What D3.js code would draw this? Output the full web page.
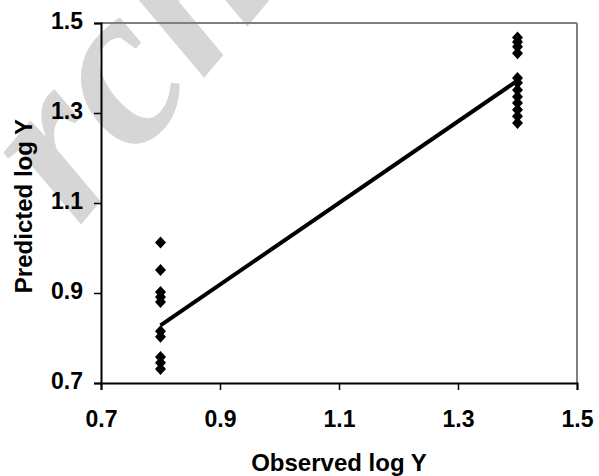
<!DOCTYPE html>
<html>
<head>
<meta charset="utf-8">
<script src="https://cdn.jsdelivr.net/npm/d3@7"></script>
<style>
  html, body { margin: 0; padding: 0; background: #fff; }
  svg { display: block; font-family: "Liberation Sans", Arial, sans-serif; font-weight: bold; }
</style>
</head>
<body>
<svg id="chart" width="599" height="476"></svg>
<script>
/* ---------------- DATA ---------------- */
const observedLow = 0.8;
const observedHigh = 1.4;
const predictedLow = [1.012, 0.951, 0.902, 0.891, 0.880, 0.815, 0.803, 0.758, 0.745, 0.731];
const predictedHigh = [1.468, 1.458, 1.447, 1.433, 1.378, 1.367, 1.351, 1.336, 1.322, 1.307, 1.293, 1.278];
const fitLine = [[0.8, 0.828], [1.4, 1.372]];
const tickValues = [0.7, 0.9, 1.1, 1.3, 1.5];

const points = predictedLow.map(v => ({ x: observedLow, y: v }))
  .concat(predictedHigh.map(v => ({ x: observedHigh, y: v })));

/* ---------------- SVG SETUP ---------------- */
const svg = d3.select("#chart");
const plot = { left: 101, top: 23, right: 577, bottom: 383 };

const x = d3.scaleLinear().domain([0.7, 1.5]).range([plot.left, plot.right]);
const y = d3.scaleLinear().domain([0.7, 1.5]).range([plot.bottom, plot.top]);

/* ---------------- WATERMARK ---------------- */
// only the part of the word that shows in the picture
svg.append("text")
  .attr("transform", "translate(78,228) rotate(-50)")
  .attr("font-family", "'Liberation Serif', serif")
  .attr("font-style", "italic")
  .attr("font-weight", "bold")
  .attr("font-size", 230)
  .attr("fill", "#d6d6d6")
  .text("rchive");

/* ---------------- FRAME ---------------- */
svg.append("line")
  .attr("x1", plot.left).attr("x2", plot.right)
  .attr("y1", plot.top).attr("y2", plot.top)
  .attr("stroke", "#808080").attr("stroke-width", 2);
svg.append("line")
  .attr("x1", plot.right).attr("x2", plot.right)
  .attr("y1", plot.top).attr("y2", plot.bottom)
  .attr("stroke", "#808080").attr("stroke-width", 2);

/* ---------------- AXES ---------------- */
const xAxis = svg.append("g")
  .attr("transform", `translate(0,${plot.bottom})`)
  .call(d3.axisBottom(x).tickValues(tickValues).tickFormat(d3.format(".1f")).tickSize(7).tickPadding(21));

const yAxis = svg.append("g")
  .attr("transform", `translate(${plot.left},0)`)
  .call(d3.axisLeft(y).tickValues(tickValues).tickFormat(d3.format(".1f")).tickSize(7).tickPadding(11));

[xAxis, yAxis].forEach(g => {
  g.select(".domain").attr("stroke", "#000").attr("stroke-width", 2);
  g.selectAll(".tick line").attr("stroke", "#000").attr("stroke-width", 1.5);
  g.selectAll(".tick text")
    .attr("fill", "#000")
    .attr("font-size", 23)
    .attr("font-weight", "bold")
    .attr("font-family", "'Liberation Sans', Arial, sans-serif");
});
yAxis.selectAll(".tick text").attr("dy", "0.25em");

/* ---------------- AXIS TITLES ---------------- */
svg.append("text")
  .attr("x", (plot.left + plot.right) / 2)
  .attr("y", 471)
  .attr("text-anchor", "middle")
  .attr("font-size", 24)
  .text("Observed log Y");

svg.append("text")
  .attr("transform", `translate(32,${(plot.top + plot.bottom) / 2 + 3}) rotate(-90)`)
  .attr("text-anchor", "middle")
  .attr("font-size", 24)
  .text("Predicted log Y");

/* ---------------- FIT LINE ---------------- */
svg.append("path")
  .datum(fitLine)
  .attr("d", d3.line().x(d => x(d[0])).y(d => y(d[1])))
  .attr("fill", "none")
  .attr("stroke", "#000")
  .attr("stroke-width", 4);

/* ---------------- POINTS ---------------- */
const diamond = "M0,-6L5.5,0L0,6L-5.5,0Z";
svg.selectAll(".pt")
  .data(points)
  .enter()
  .append("path")
  .attr("class", "pt")
  .attr("transform", d => `translate(${x(d.x)},${y(d.y)})`)
  .attr("d", diamond)
  .attr("fill", "#000");
</script>
</body>
</html>
